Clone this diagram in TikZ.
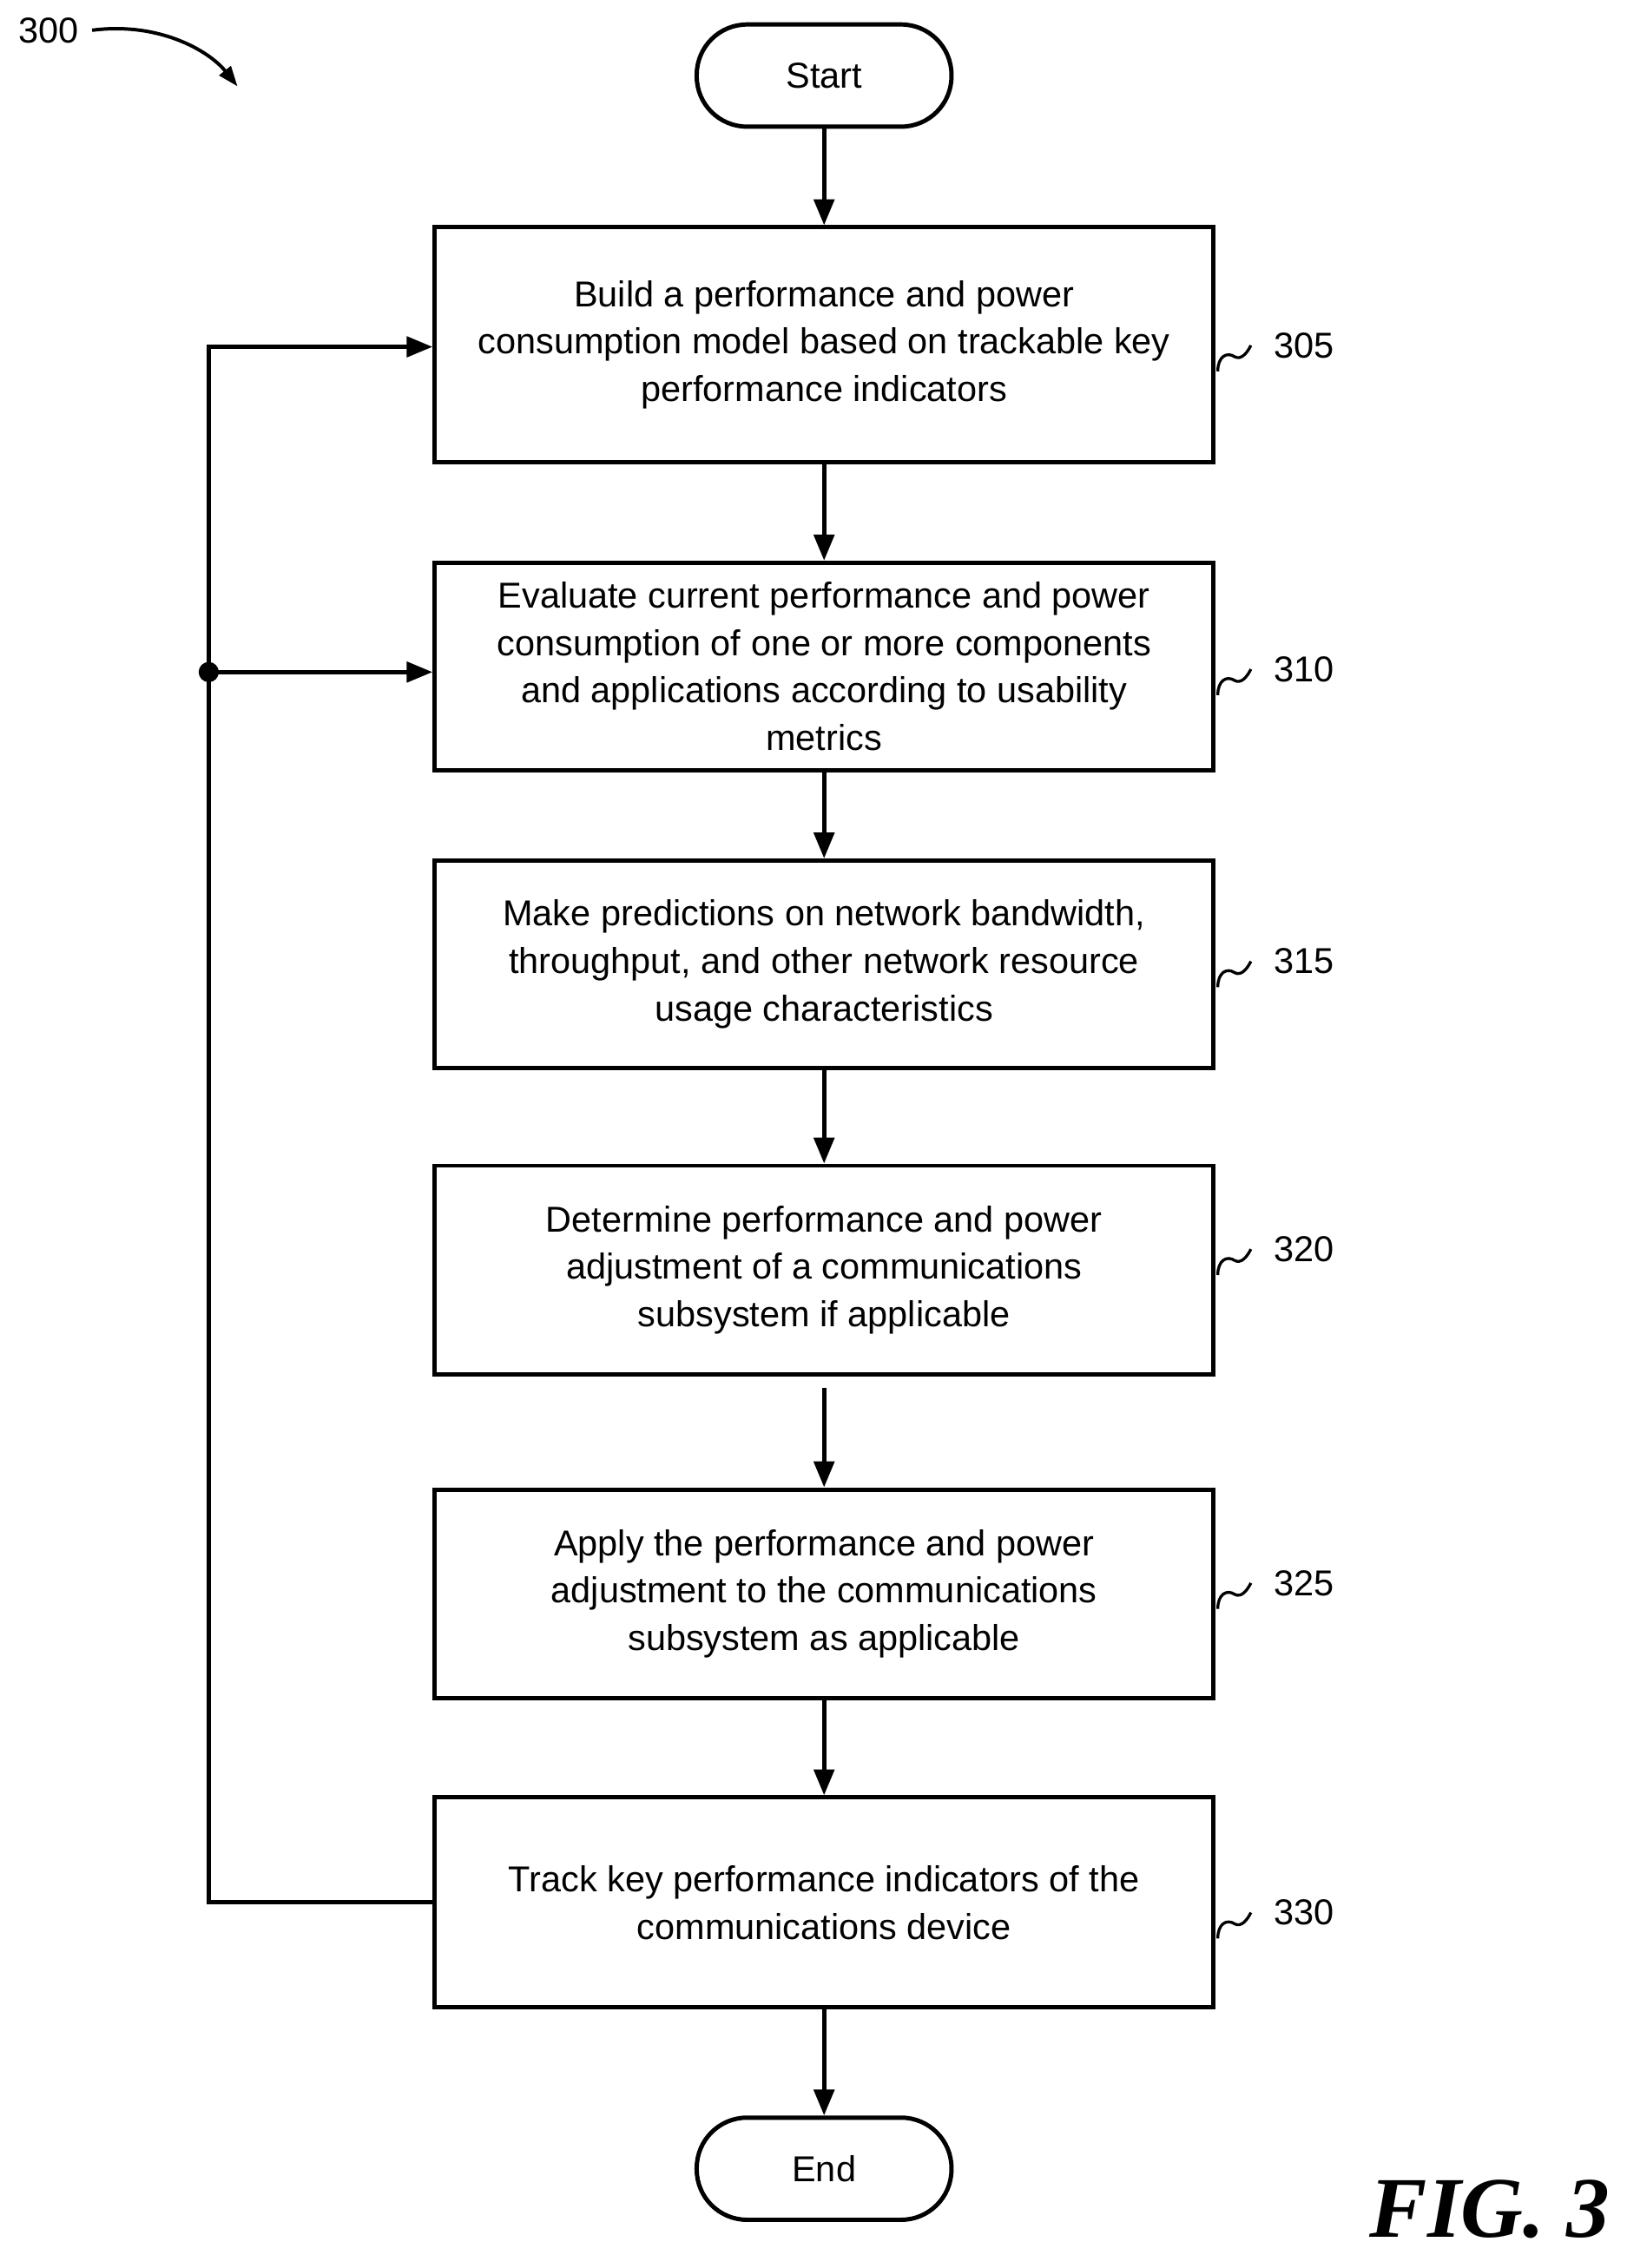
\documentclass[tikz,border=0pt]{standalone}
\usepackage{fontspec}
\setmainfont{Liberation Sans}
\newfontfamily\figfont{Liberation Serif}
\usetikzlibrary{arrows.meta}
\begin{document}
\begin{tikzpicture}[x=0.5pt,y=-0.5pt,
  box/.style={draw,line width=1.5pt,minimum width=270.5pt,align=center,font=\fontsize{12.5}{16.5}\selectfont,inner sep=0pt},
  term/.style={draw,line width=1.5pt,rounded corners=17.5pt,minimum width=88.5pt,minimum height=35.5pt,font=\fontsize{12.5}{15}\selectfont},
  arr/.style={line width=1.5pt,-{Triangle[length=9pt,width=7pt]}},
  ref/.style={font=\fontsize{12.5}{15}\selectfont},
  sq/.style={line width=1pt}]
\useasboundingbox (0,0) rectangle (1130,1576);
\node[term] (start) at (572.5,52.5) {Start};
\node[box,minimum height=81.5pt] (b1) at (572.5,239.5) {Build a performance and power\\consumption model based on trackable key\\performance indicators};
\node[box,minimum height=72pt] (b2) at (572.5,463) {Evaluate current performance and power\\consumption of one or more components\\and applications according to usability\\metrics};
\node[box,minimum height=72pt] (b3) at (572.5,670) {Make predictions on network bandwidth,\\throughput, and other network resource\\usage characteristics};
\node[box,minimum height=72.5pt] (b4) at (572.5,882.5) {Determine performance and power\\adjustment of a communications\\subsystem if applicable};
\node[box,minimum height=72.5pt] (b5) at (572.5,1107.5) {Apply the performance and power\\adjustment to the communications\\subsystem as applicable};
\node[box,minimum height=73pt] (b6) at (572.5,1322) {Track key performance indicators of the\\communications device};
\node[term] (end) at (572.5,1507) {End};
\draw[arr] (start) -- (b1);
\draw[arr] (b1) -- (b2);
\draw[arr] (b2) -- (b3);
\draw[arr] (b3) -- (b4);
\draw[arr] ([yshift=-4pt]b4.south) -- (b5);
\draw[arr] (b5) -- (b6);
\draw[arr] (b6) -- (end);
\coordinate (c1) at (145,1322);
\coordinate (c2) at (145,241);
\coordinate (dot) at (145,467);
\draw[arr] (b6.west) -- (c1) -- (c2) -- (b1.west|-c2);
\draw[arr] (dot) -- (b2.west|-dot);
\fill (dot) circle (3.5pt);
\foreach \b/\n/\y in {b1/305/240,b2/310/465,b3/315/668,b4/320/868,b5/325/1100,b6/330/1329}{
  \node[ref,anchor=west] (l\n) at (878,\y) {\n};
  \draw[sq] (846,\y+18) .. controls (846,\y+8) and (852,\y+4) .. (858,\y+8) .. controls (862,\y+10) and (866,\y+6) .. (869,\y);
}
\node[ref] (l300) at (34,21) {300};
\coordinate (a300) at (165,60);
\draw[line width=1.2pt,-{Triangle[length=7pt,width=5pt]}] (64,21) .. controls (110,15) and (145,35) .. (a300);
\node[font=\figfont\bfseries\itshape\fontsize{30}{34}\selectfont] (fig) at (1035,1535) {FIG. 3};
\end{tikzpicture}
\end{document}
